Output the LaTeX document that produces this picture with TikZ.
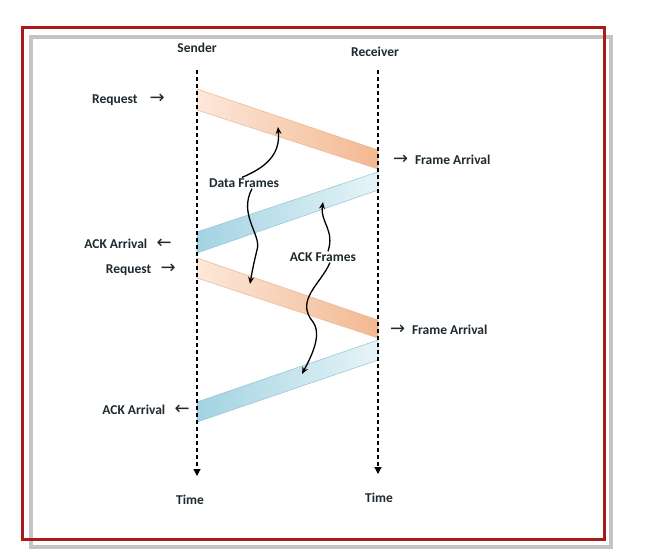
\documentclass[tikz,border=0pt]{standalone}
\usepackage{fontspec}
\setmainfont{Carlito}
\newfontfamily\arrfont{DejaVu Sans}
\usetikzlibrary{arrows.meta}
\definecolor{framered}{HTML}{A81C1C}
\definecolor{framegray}{HTML}{C4C4C4}
\definecolor{dataL}{HTML}{FCE8DA}
\definecolor{dataR}{HTML}{F3B890}
\definecolor{dataE}{HTML}{E9B593}
\definecolor{ackL}{HTML}{A3D3E2}
\definecolor{ackR}{HTML}{E6F4F8}
\definecolor{ackE}{HTML}{8FC3D3}
\definecolor{txt}{HTML}{1E2A30}
\tikzset{
  lbl/.style={font=\fontsize{13.5}{15}\selectfont\bfseries, text=txt, inner sep=0pt},
  timeline/.style={dashed, dash pattern=on 4pt off 3pt, line width=1.2pt, -{Triangle[length=7pt,width=7pt]}},
  curly/.style={line width=1.3pt, -{Stealth[length=7pt,width=6pt]}},
  databand/.style={left color=dataL, right color=dataR, draw=dataE, line width=0.5pt},
  ackband/.style={left color=ackL, right color=ackR, draw=ackE, line width=0.5pt},
}
\newcommand{\rarr}{{\arrfont\fontsize{18}{15}\selectfont\mdseries →}}
\newcommand{\larr}{{\arrfont\fontsize{18}{15}\selectfont\mdseries ←}}
\begin{document}
\begin{tikzpicture}[x=1pt,y=-1pt]
\useasboundingbox (0,0) rectangle (659,553);
\fill[white] (0,0) rectangle (659,553);
% frames
\draw[framegray, line width=3.5pt] (31,37) rectangle (611,547);
\draw[framered, line width=3pt] (22,28) rectangle (604,539);

% bands
\shade[databand] (197,89) -- (378,150) -- (378,169) -- (197,110) -- cycle;
\shade[ackband] (197,232) -- (378,172) -- (378,190) -- (197,253) -- cycle;
\shade[databand] (197,258) -- (378,320) -- (378,338) -- (197,278) -- cycle;
\shade[ackband] (197,402) -- (378,340) -- (378,360) -- (197,422) -- cycle;

% timelines
\coordinate (s0) at (197,70);
\coordinate (s1) at (197,476);
\coordinate (r0) at (378,70);
\coordinate (r1) at (378,474);
\draw[timeline] (s0) -- (s1);
\draw[timeline] (r0) -- (r1);

% labels
\node[lbl] (sender) at (197,48) {Sender};
\node[lbl] (receiver) at (375,52) {Receiver};
\node[lbl] (time1) at (190,500) {Time};
\node[lbl] (time2) at (379,498) {Time};
\node[lbl, anchor=east] (req1) at (165,100) {Request\hspace{0.9em}\rarr};
\node[lbl, anchor=east] (ack1) at (172,244) {ACK Arrival\hspace{0.7em}\larr};
\node[lbl, anchor=east] (req2) at (176,270) {Request\hspace{0.7em}\rarr};
\node[lbl, anchor=east] (ack2) at (190,410) {ACK Arrival\hspace{0.7em}\larr};
\node[lbl, anchor=west] (fa1) at (393,160) {\rarr\hspace{0.5em}Frame Arrival};
\node[lbl, anchor=west] (fa2) at (390,330) {\rarr\hspace{0.5em}Frame Arrival};
\node[lbl] (df) at (244,183) {Data Frames};
\node[lbl] (af) at (323,257) {ACK Frames};

% curly pointers
\coordinate (d1) at (278,127);
\coordinate (d2) at (250,284);
\coordinate (a1) at (323,202);
\coordinate (a2) at (302,374);
\draw[curly] ([xshift=-2pt,yshift=1pt]df.north) .. controls (272,165) and (280,150) .. (d1);
\draw[curly] ([xshift=8pt,yshift=-1pt]df.south) .. controls (238,215) and (262,235) .. (257,250) .. controls (254,262) and (252,272) .. (d2);
\draw[curly] ([xshift=5pt,yshift=1pt]af.north) .. controls (335,230) and (320,222) .. (a1);
\draw[curly] ([xshift=7pt,yshift=-1pt]af.south) .. controls (320,285) and (295,300) .. (313,322) .. controls (322,335) and (312,355) .. (a2);
\end{tikzpicture}
\end{document}
